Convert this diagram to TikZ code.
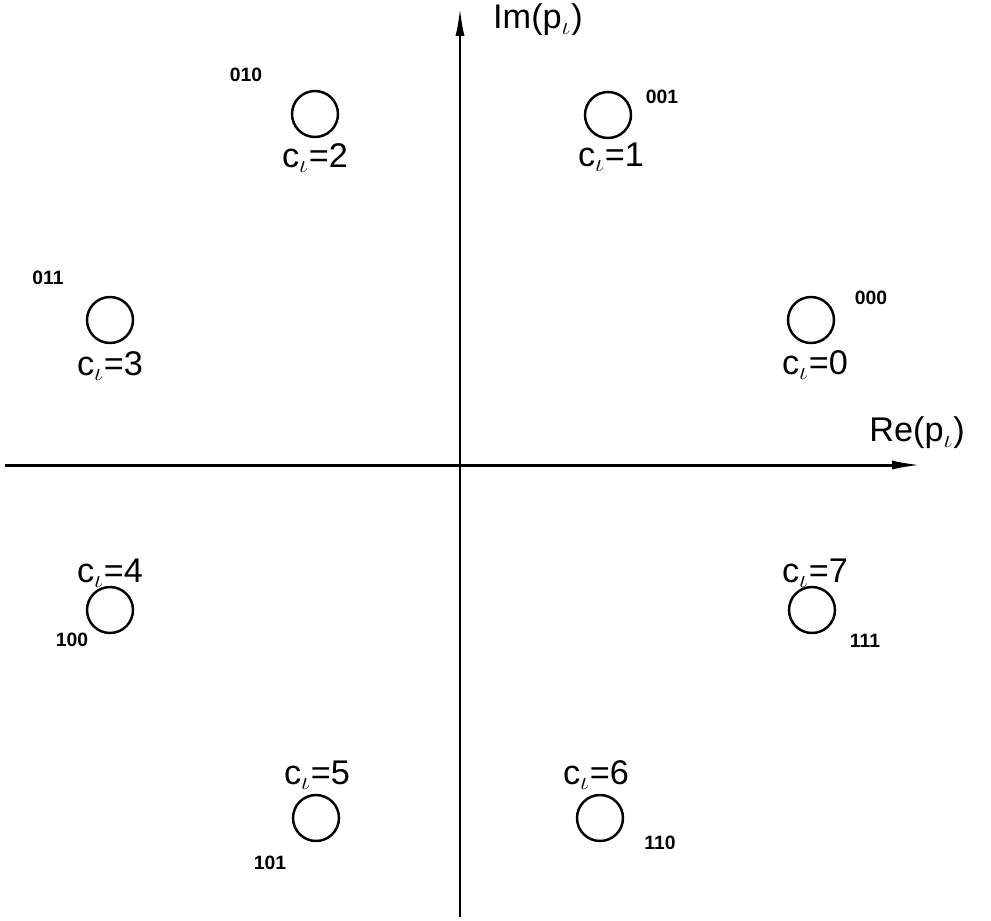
\documentclass[tikz,border=0pt]{standalone}
\usepackage{fontspec}
\setmainfont{Liberation Sans}
\usetikzlibrary{arrows.meta}

\tikzstyle{point} = [circle, draw, line width=1.4pt, minimum size=0.92cm, inner sep=0pt]
\tikzstyle{sym} = [font=\fontsize{19.5}{22}\selectfont, inner sep=0pt]
\tikzstyle{bits} = [font=\fontsize{11}{13}\selectfont\bfseries, inner sep=0pt]
\tikzstyle{axis} = [line width=1.7pt, -{Latex[length=0.6cm,width=0.18cm]}]

\begin{document}
\begin{tikzpicture}[x=0.02cm, y=-0.02cm]
\useasboundingbox (0,0) rectangle (991,920);
%begin axes
\coordinate (reL) at (5,465);
\coordinate (reR) at (922,465);
\coordinate (imB) at (460,917);
\coordinate (imT) at (460,6);
\draw[axis] (reL) -- (reR);
\draw[axis] (imB) -- (imT);
\node[sym] (relabel) at (917,433) {Re(p$_\iota$)};
\node[sym] (imlabel) at (538,20) {Im(p$_\iota$)};
%end axes
%begin c=0
\node[point] (p0) at (811,320) {};
\node[sym] (c0) at (815,365) {c$_\iota$=0};
\node[bits] (b0) at (871,298) {000};
%end c=0
%begin c=1
\node[point] (p1) at (608,115) {};
\node[sym] (c1) at (611,157) {c$_\iota$=1};
\node[bits] (b1) at (662,97) {001};
%end c=1
%begin c=2
\node[point] (p2) at (315,114) {};
\node[sym] (c2) at (315,158) {c$_\iota$=2};
\node[bits] (b2) at (246,75) {010};
%end c=2
%begin c=3
\node[point] (p3) at (110,320) {};
\node[sym] (c3) at (110,366) {c$_\iota$=3};
\node[bits] (b3) at (48,278) {011};
%end c=3
%begin c=4
\node[point] (p4) at (110,610) {};
\node[sym] (c4) at (110,573) {c$_\iota$=4};
\node[bits] (b4) at (72,640) {100};
%end c=4
%begin c=5
\node[point] (p5) at (316,818) {};
\node[sym] (c5) at (317,775) {c$_\iota$=5};
\node[bits] (b5) at (270,863) {101};
%end c=5
%begin c=6
\node[point] (p6) at (600,818) {};
\node[sym] (c6) at (596,775) {c$_\iota$=6};
\node[bits] (b6) at (660,843) {110};
%end c=6
%begin c=7
\node[point] (p7) at (812,610) {};
\node[sym] (c7) at (815,573) {c$_\iota$=7};
\node[bits] (b7) at (865,641) {111};
%end c=7
\end{tikzpicture}
\end{document}
